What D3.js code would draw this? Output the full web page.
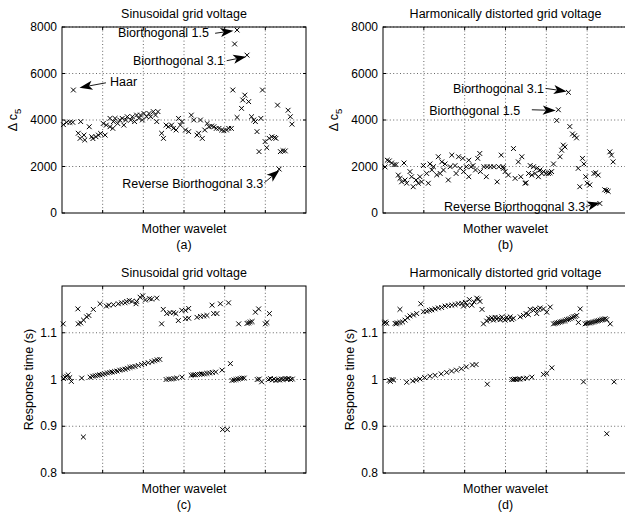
<!DOCTYPE html>
<html>
<head>
<meta charset="utf-8">
<script src="https://cdn.jsdelivr.net/npm/d3@7"></script>
<style>
  body { margin: 0; background: #fff; }
  text { font-family: "Liberation Sans", Arial, Helvetica, sans-serif; fill: #000; }
</style>
</head>
<body>
<svg id="fig" width="625" height="514"></svg>
<script>
// tick values (x ticks carry no labels, only grid lines)
var xTicks = [20, 40, 60, 80, 100];
var c5Ticks = [0, 2000, 4000, 6000, 8000];
var timeTicks = [0.8, 0.9, 1, 1.1];
var titles = ['Sinusoidal grid voltage', 'Harmonically distorted grid voltage',
              'Sinusoidal grid voltage', 'Harmonically distorted grid voltage'];
var tags = ['(a)', '(b)', '(c)', '(d)'];

// [wavelet index, value]
var sinC5 = [[0.7,3800],[2.3,3900],[3.9,3900],[5.3,3900],[5.6,5290],[8.0,3430],[8.9,3210],[9.2,3930],[10.8,3350],
  [11.2,3140],[13.4,3710],[14.6,3280],[15.2,3200],[16.7,3280],[17.9,3350],[19.0,3420],[20.3,3850],[21.2,3350],
  [21.8,3780],[23.6,3710],[23.6,4070],[25.0,3640],[25.3,3930],[26.1,4070],[27.4,3850],[28.4,4000],[29.6,4070],
  [30.4,3780],[31.3,4000],[32.1,4140],[33.8,4000],[34.6,4140],[35.7,3930],[36.7,4210],[37.8,4070],[38.6,4210],
  [39.5,4000],[40.3,4280],[41.6,4140],[42.8,4280],[43.6,4140],[44.9,4360],[46.0,4210],[46.6,3930],[47.2,4360],
  [49.0,3430],[49.9,3210],[51.2,3780],[52.3,3710],[53.9,3780],[54.8,3640],[56.1,3570],[57.3,4070],[58.2,3780],
  [59.0,3930],[60.7,3570],[62.3,3500],[63.6,4210],[64.8,4000],[66.4,3350],[67.2,3430],[68.1,4000],[69.0,3210],
  [70.2,3570],[71.4,3850],[72.3,3710],[73.6,3740],[74.7,3710],[75.9,3640],[77.2,3640],[78.5,3570],[79.6,3540],
  [80.9,3570],[82.0,3640],[83.3,3640],[84.0,5290],[84.9,7270],[86.1,7870],[86.1,4110],[88.3,4500],[88.9,4860],
  [89.9,5070],[91.0,6790],[91.8,4790],[93.2,4140],[94.3,4000],[95.1,3930],[95.9,3500],[96.9,2640],[97.8,4070],
  [98.6,5290],[99.9,3070],[100.7,2810],[101.9,3210],[103.2,3280],[104.5,3250],[105.2,3210],[106.0,4640],
  [106.8,1890],[107.4,2640],[108.7,2680],[109.8,2670],[111.2,4420],[112.3,4140],[113.1,3820]];

var harmC5 = [[1.0,1980],[2.1,2270],[3.1,2240],[4.2,2150],[5.4,2080],[6.4,2080],[7.5,1630],[8.3,1490],[9.1,1340],
  [10.3,2150],[10.8,1420],[11.6,1280],[13.2,1780],[14.0,1560],[14.8,1130],[16.2,1420],[17.3,1280],[18.1,1560],
  [18.9,1340],[19.8,2040],[21.4,1700],[22.2,1280],[23.0,2110],[23.9,1850],[24.7,1990],[26.3,1640],[27.1,2420],
  [28.0,1700],[28.8,2200],[29.6,1850],[30.4,2110],[32.0,1420],[32.9,1990],[33.7,2490],[35.3,2040],[35.8,1700],
  [37.0,2420],[37.8,1920],[39.1,2350],[39.5,1780],[40.8,1990],[42.0,1560],[42.0,2270],[43.1,1990],[44.1,2040],
  [45.3,1850],[46.4,2350],[47.4,2560],[47.7,1780],[49.4,1990],[50.6,1560],[51.0,1990],[52.6,1990],[54.3,1990],
  [55.9,1340],[56.7,1990],[57.9,2490],[58.8,1990],[59.0,1920],[59.8,1780],[61.4,1630],[63.9,2770],[64.7,1490],
  [66.3,2200],[67.5,1560],[68.0,2420],[69.6,1280],[70.1,1300],[71.3,1700],[72.1,2040],[72.9,1630],[73.7,1990],
  [74.5,1700],[75.3,1920],[76.1,1560],[76.9,1850],[77.8,1700],[78.6,1780],[79.9,1700],[81.0,1700],[81.8,1730],
  [82.6,1780],[83.5,2110],[85.1,3980],[85.9,4440],[86.7,2420],[87.5,2700],[88.3,2920],[89.1,2840],[90.8,5190],
  [91.5,3720],[92.8,3400],[93.9,3330],[94.8,3230],[95.6,1920],[96.4,1130],[97.7,2350],[98.4,2110],[99.3,1560],
  [100.0,1280],[101.3,1210],[103.3,1700],[104.2,1730],[105.4,1630],[106.2,410],[108.6,1000],[109.5,970],
  [110.3,930],[111.1,2630],[111.9,2490],[112.7,2200]];

var sinTime = [[0.6,1.119],[7.8,1.151],[8.0,1.119],[9.2,1.121],[10.6,1.127],[12.1,1.134],[13.2,1.137],[15.4,1.150],
  [18.7,1.162],[21.8,1.157],[23.0,1.159],[25.3,1.160],[27.7,1.162],[29.3,1.164],[31.0,1.164],[31.8,1.167],
  [33.1,1.169],[34.4,1.167],[36.4,1.162],[36.7,1.167],[38.4,1.176],[39.7,1.179],[41.0,1.170],[43.0,1.173],
  [44.1,1.172],[46.6,1.174],[49.0,1.119],[49.8,1.150],[51.5,1.141],[53.1,1.143],[54.8,1.143],[56.0,1.141],
  [57.2,1.126],[58.9,1.148],[60.7,1.130],[60.7,1.148],[62.3,1.131],[62.3,1.152],[66.4,1.133],[68.1,1.135],
  [69.7,1.136],[71.3,1.137],[73.8,1.159],[74.6,1.141],[76.2,1.141],[77.9,1.162],[81.9,1.164],[86.9,1.119],
  [91.0,1.120],[91.8,1.121],[92.6,1.123],[93.5,1.124],[95.1,1.144],[96.7,1.151],[100.0,1.119],[100.8,1.122],
  [102.0,1.141],
  [0.7,1.002],[1.5,1.005],[2.3,1.007],[3.0,1.010],[3.8,1.004],[4.6,0.996],[9.7,1.003],[10.5,0.877],[13.8,1.005],
  [15.1,1.007],[16.4,1.008],[17.5,1.009],[18.6,1.010],[19.8,1.011],[21.0,1.012],[22.3,1.014],[23.5,1.015],
  [24.6,1.016],[25.9,1.017],[27.1,1.018],[28.4,1.020],[29.7,1.021],[31.0,1.022],[32.2,1.024],[33.4,1.026],
  [34.6,1.027],[35.9,1.028],[37.5,1.030],[39.2,1.032],[40.6,1.034],[42.4,1.036],[44.3,1.038],[45.5,1.040],
  [46.8,1.042],[48.1,1.043],[51.2,1.000],[52.5,1.001],[53.8,1.001],[55.1,1.002],[56.4,1.003],[59.0,1.005],
  [63.5,1.009],[64.5,1.010],[65.5,1.010],[66.6,1.011],[67.7,1.011],[68.8,1.012],[70.0,1.012],[71.3,1.013],
  [72.6,1.014],[74.0,1.015],[75.6,1.016],[78.7,1.020],[82.8,1.034],[79.0,0.893],[81.3,0.893],[83.6,0.998],
  [84.6,0.999],[85.6,1.000],[86.6,1.001],[87.6,1.002],[88.6,1.003],[89.6,1.003],[96.0,1.000],[97.0,1.001],
  [98.2,0.995],[101.6,1.000],[102.5,1.002],[103.4,0.999],[104.3,1.001],[105.2,0.998],[106.1,1.000],[107.0,0.999],
  [107.9,1.001],[108.8,1.000],[109.7,1.002],[110.6,1.001],[111.5,1.002],[112.4,1.000],[113.3,1.001]];

var harmTime = [[0.6,1.121],[1.2,1.123],[1.8,1.120],[5.9,1.120],[6.5,1.119],[7.0,1.121],[8.3,1.150],[8.3,1.122],
  [9.6,1.123],[10.8,1.127],[12.0,1.132],[13.2,1.136],[14.9,1.138],[16.5,1.141],[18.5,1.162],[19.8,1.145],
  [21.4,1.146],[22.7,1.148],[23.9,1.149],[25.5,1.151],[27.1,1.153],[28.7,1.154],[30.4,1.157],[32.0,1.158],
  [33.7,1.159],[35.3,1.160],[36.9,1.162],[38.6,1.163],[39.4,1.157],[40.3,1.165],[41.3,1.159],[42.3,1.171],
  [43.5,1.159],[44.6,1.166],[45.9,1.174],[46.7,1.172],[47.5,1.167],[48.5,1.150],[49.2,1.119],[50.8,1.125],
  [51.7,1.131],[52.5,1.128],[53.3,1.132],[54.1,1.127],[54.9,1.133],[55.7,1.129],[56.5,1.132],[57.4,1.128],
  [58.2,1.134],[59.0,1.130],[59.8,1.127],[60.6,1.133],[61.4,1.129],[62.3,1.134],[63.1,1.128],[63.9,1.131],
  [67.2,1.134],[68.8,1.137],[70.1,1.141],[71.2,1.139],[72.1,1.150],[73.7,1.148],[74.5,1.151],[75.3,1.141],
  [76.2,1.150],[77.0,1.153],[78.6,1.151],[80.2,1.144],[81.9,1.155],[83.5,1.119],[84.3,1.120],[85.1,1.121],
  [85.9,1.122],[86.8,1.123],[87.6,1.124],[88.4,1.125],[89.2,1.126],[90.0,1.128],[90.8,1.129],[91.7,1.130],
  [92.5,1.132],[93.3,1.134],[94.1,1.135],[94.9,1.137],[95.7,1.122],[96.6,1.151],[99.0,1.119],[99.8,1.120],
  [100.6,1.121],[101.5,1.121],[102.3,1.122],[103.1,1.123],[103.9,1.124],[104.7,1.125],[105.5,1.126],
  [106.4,1.127],[107.2,1.128],[108.0,1.129],[108.8,1.130],[109.6,1.128],[111.3,1.119],
  [3.0,0.998],[3.6,0.996],[4.4,1.000],[5.2,0.999],[11.6,0.994],[14.6,0.997],[16.3,0.999],[18.1,1.001],
  [20.4,1.004],[23.0,1.007],[25.5,1.009],[28.5,1.012],[31.2,1.015],[33.6,1.018],[36.0,1.020],[38.4,1.023],
  [40.8,1.027],[43.8,1.031],[45.6,1.032],[51.1,0.990],[63.1,1.000],[63.9,1.000],[64.7,1.001],[65.5,1.000],
  [66.4,1.001],[67.2,1.001],[68.8,1.002],[70.4,1.003],[72.9,1.005],[78.6,1.011],[80.2,1.013],[82.7,1.025],
  [98.2,0.995],[109.6,0.884],[113.2,0.995]];

// annotation labels: text point, arrow tail and arrow tip, all in data units
var sinNotes = [
  {text: 'Biorthogonal 1.5', at: [72.3, 7740], from: [75.3, 7730], to: [84.3, 7840], anchor: 'end'},
  {text: 'Biorthogonal 3.1', at: [79.7, 6540], from: [81.0, 6550], to: [90.6, 6720], anchor: 'end'},
  {text: 'Haar', at: [23.6, 5650], from: [21.6, 5600], to: [8.6, 5390], anchor: 'start'},
  {text: 'Reverse Biorthogonal 3.3', at: [99.0, 1250], from: [99.5, 1300], to: [107.0, 1850], anchor: 'end'}
];
var harmNotes = [
  {text: 'Biorthogonal 3.1', at: [78.9, 5360], from: [79.6, 5360], to: [90.0, 5230], anchor: 'end'},
  {text: 'Biorthogonal 1.5', at: [67.2, 4410], from: [72.9, 4440], to: [84.6, 4410], anchor: 'end'},
  {text: 'Reverse Biorthogonal 3.3', at: [99.0, 270], from: [99.3, 280], to: [106.4, 440], anchor: 'end'}
];

var svg = d3.select('#fig');
svg.append('rect').attr('width', 625).attr('height', 514).attr('fill', '#fff');

var panels = [
  {data: sinC5,    left: 62,  top: 27,  w: 244, h: 186, y: [0, 8000],  ticks: c5Ticks,   fmt: d3.format('d'), ylab: 'c5',   notes: sinNotes},
  {data: harmC5,   left: 383, top: 27,  w: 245, h: 186, y: [0, 8000],  ticks: c5Ticks,   fmt: d3.format('d'), ylab: 'c5',   notes: harmNotes},
  {data: sinTime,  left: 62,  top: 286, w: 244, h: 187, y: [0.8, 1.2], ticks: timeTicks, fmt: String,         ylab: 'time', notes: []},
  {data: harmTime, left: 383, top: 286, w: 245, h: 187, y: [0.8, 1.2], ticks: timeTicks, fmt: String,         ylab: 'time', notes: []}
];

panels.forEach(function(p, i) {
  var x = d3.scaleLinear().domain([0, 120]).range([p.left, p.left + p.w]);
  var y = d3.scaleLinear().domain(p.y).range([p.top + p.h, p.top]);
  var bottom = p.top + p.h, right = p.left + p.w;
  var g = svg.append('g');

  // dotted grid
  g.selectAll('.gx').data(xTicks).enter().append('line')
      .attr('x1', x).attr('x2', x).attr('y1', p.top).attr('y2', bottom)
      .attr('stroke', '#000').attr('stroke-width', 0.8).attr('stroke-dasharray', '1,2.4').attr('opacity', 0.75);
  g.selectAll('.gy').data(p.ticks.slice(1)).enter().append('line')
      .attr('y1', y).attr('y2', y).attr('x1', p.left).attr('x2', right)
      .attr('stroke', '#000').attr('stroke-width', 0.8).attr('stroke-dasharray', '1,2.4').attr('opacity', 0.75);

  // inward ticks on all four sides
  xTicks.forEach(function(t) {
    g.append('line').attr('x1', x(t)).attr('x2', x(t)).attr('y1', bottom).attr('y2', bottom - 3).attr('stroke', '#000');
    g.append('line').attr('x1', x(t)).attr('x2', x(t)).attr('y1', p.top).attr('y2', p.top + 3).attr('stroke', '#000');
  });
  p.ticks.forEach(function(t) {
    g.append('line').attr('y1', y(t)).attr('y2', y(t)).attr('x1', p.left).attr('x2', p.left + 3).attr('stroke', '#000');
    g.append('line').attr('y1', y(t)).attr('y2', y(t)).attr('x1', right).attr('x2', right - 3).attr('stroke', '#000');
  });

  // box
  g.append('rect').attr('x', p.left).attr('y', p.top).attr('width', p.w).attr('height', p.h)
      .attr('fill', 'none').attr('stroke', '#000').attr('stroke-width', 1);

  // y tick labels
  g.selectAll('.tl').data(p.ticks).enter().append('text')
      .attr('x', p.left - 5).attr('y', y).attr('dy', '0.35em')
      .attr('text-anchor', 'end').style('font-size', '12px')
      .text(p.fmt);

  // x markers
  g.selectAll('.pt').data(p.data).enter().append('path')
      .attr('transform', function(d) { return 'translate(' + x(d[0]) + ',' + y(d[1]) + ')'; })
      .attr('d', 'M-2.4,-2.4L2.4,2.4M-2.4,2.4L2.4,-2.4')
      .attr('stroke', '#000').attr('stroke-width', 1).attr('fill', 'none');

  // titles and labels
  var cx = p.left + p.w / 2;
  g.append('text').attr('x', cx).attr('y', p.top - 9.5).attr('text-anchor', 'middle')
      .style('font-size', '12.5px').text(titles[i]);
  g.append('text').attr('x', cx).attr('y', bottom + 20).attr('text-anchor', 'middle')
      .style('font-size', '12.5px').text('Mother wavelet');
  g.append('text').attr('x', cx).attr('y', bottom + 35.5).attr('text-anchor', 'middle')
      .style('font-size', '12.5px').text(tags[i]);

  var yl = g.append('text').attr('text-anchor', 'middle').style('font-size', '12.5px');
  if (p.ylab === 'c5') {
    yl.attr('transform', 'translate(' + (p.left - 45) + ',' + (p.top + p.h / 2) + ') rotate(-90)');
    yl.append('tspan').text('\u0394 c');
    yl.append('tspan').attr('dy', 4).style('font-size', '9.5px').text('5');
  } else {
    yl.attr('transform', 'translate(' + (p.left - 29.5) + ',' + (p.top + p.h / 2) + ') rotate(-90)')
      .text('Response time (s)');
  }

  // annotations with filled arrow heads
  p.notes.forEach(function(n) {
    g.append('text').attr('x', x(n.at[0])).attr('y', y(n.at[1])).attr('dy', '0.35em')
        .attr('text-anchor', n.anchor).style('font-size', '12.5px').text(n.text);
    var x0 = x(n.from[0]), y0 = y(n.from[1]), x1 = x(n.to[0]), y1 = y(n.to[1]);
    var ang = Math.atan2(y1 - y0, x1 - x0), len = 13, hw = 4.6;
    var bx = x1 - len * Math.cos(ang), by = y1 - len * Math.sin(ang);
    g.append('line').attr('x1', x0).attr('y1', y0).attr('x2', bx + 3 * Math.cos(ang)).attr('y2', by + 3 * Math.sin(ang))
        .attr('stroke', '#000').attr('stroke-width', 0.9);
    var pts = [[x1, y1],
               [bx - hw * Math.sin(ang), by + hw * Math.cos(ang)],
               [x1 - 0.75 * len * Math.cos(ang), y1 - 0.75 * len * Math.sin(ang)],
               [bx + hw * Math.sin(ang), by - hw * Math.cos(ang)]];
    g.append('polygon').attr('points', pts.map(function(q) { return q.join(','); }).join(' '))
        .attr('fill', '#000');
  });
});
</script>
</body>
</html>
